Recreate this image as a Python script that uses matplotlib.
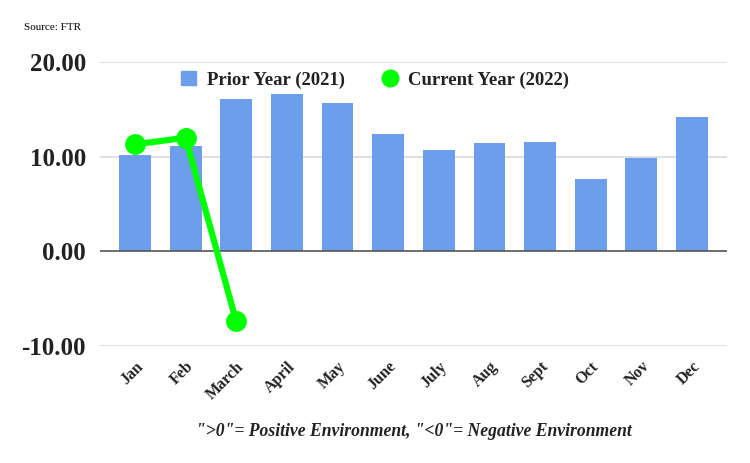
import matplotlib
matplotlib.use("Agg")
import matplotlib.pyplot as plt
from matplotlib.lines import Line2D
from matplotlib.patches import Patch

months = ['Jan', 'Feb', 'March', 'April', 'May', 'June', 'July', 'Aug', 'Sept', 'Oct', 'Nov', 'Dec']
prior_year = [10.2, 11.1, 16.1, 16.6, 15.7, 12.4, 10.7, 11.4, 11.5, 7.6, 9.9, 14.2]
current_year = [11.3, 12.0, -7.4]
yticks = [-10, 0, 10, 20]

plt.rcParams['font.family'] = ['Liberation Serif', 'DejaVu Serif']

fig = plt.figure(figsize=(7.5, 4.63), dpi=100)
ax = fig.add_axes([100 / 750, 1 - 346 / 463, 627 / 750, 284 / 463])

x = list(range(len(months)))
ax.bar(x, prior_year, width=0.63, color='#6d9eeb', zorder=2)
ax.plot(range(len(current_year)), current_year, color='#00ff00', lw=4.5,
        marker='o', markersize=14, zorder=3, solid_capstyle='round')

ax.set_xlim(-0.69, 11.69)
ax.set_ylim(-10, 20)
ax.set_yticks(yticks)
ax.set_yticklabels([f'{v:.2f}' for v in yticks], fontsize=18, fontweight='bold', color='#222222')
ax.tick_params(axis='y', length=0, pad=10)
ax.set_xticks(x)
ax.set_xticklabels(months, rotation=45, ha='right', rotation_mode='anchor',
                   fontsize=11.5, fontweight='bold', color='#222222')
ax.tick_params(axis='x', length=0, pad=9)

for v in yticks:
    if v == 0:
        ax.axhline(v, color='#555555', lw=1.2, zorder=2.5)
    else:
        ax.axhline(v, color='#d9d9d9', lw=1.2, zorder=1)

for s in ax.spines.values():
    s.set_visible(False)

handles = [Patch(color='#6d9eeb', label='Prior Year (2021)'),
           Line2D([], [], color='#00ff00', marker='o', lw=0, markersize=12, label='Current Year (2022)')]
fig.legend(handles=handles, loc='center', bbox_to_anchor=(0.5, 1 - 80 / 463), ncol=2,
           frameon=False, prop={'size': 13.5, 'weight': 'bold'}, handlelength=0.8,
           handleheight=0.8, columnspacing=2.0, handletextpad=0.6, labelcolor='#222222')

fig.text(24 / 750, 1 - 28 / 463, 'Source: FTR', fontsize=8, va='center', ha='left')
fig.text(414 / 750, 1 - 431 / 463, '">0"= Positive Environment, "<0"= Negative Environment',
         fontsize=12.7, fontstyle='italic', fontweight='bold', ha='center', va='center', color='#222222')

fig.savefig('out.png', dpi=100)
